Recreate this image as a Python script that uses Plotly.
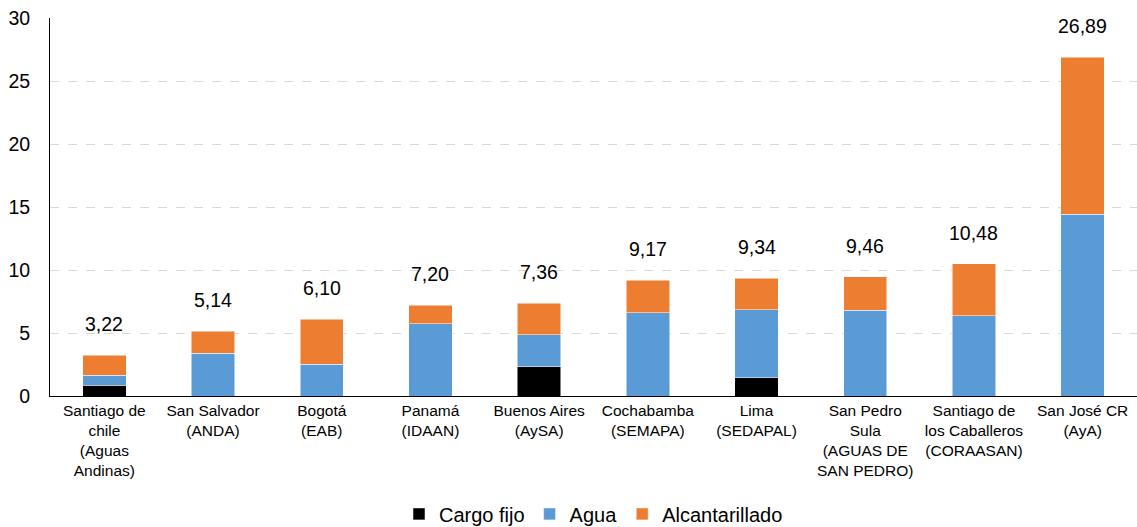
import plotly.graph_objects as go

categories = [
    "Santiago de<br>chile<br>(Aguas<br>Andinas)",
    "San Salvador<br>(ANDA)",
    "Bogotá<br>(EAB)",
    "Panamá<br>(IDAAN)",
    "Buenos Aires<br>(AySA)",
    "Cochabamba<br>(SEMAPA)",
    "Lima<br>(SEDAPAL)",
    "San Pedro<br>Sula<br>(AGUAS DE<br>SAN PEDRO)",
    "Santiago de<br>los Caballeros<br>(CORAASAN)",
    "San José CR<br>(AyA)",
]
cargo_fijo = [0.87, 0, 0, 0, 2.33, 0, 1.45, 0, 0, 0]
agua = [0.77, 3.39, 2.51, 5.74, 2.54, 6.59, 5.40, 6.80, 6.37, 14.44]
alcantarillado = [1.58, 1.75, 3.59, 1.46, 2.49, 2.58, 2.49, 2.66, 4.11, 12.45]
totals = [3.22, 5.14, 6.10, 7.20, 7.36, 9.17, 9.34, 9.46, 10.48, 26.89]
total_labels = ["3,22", "5,14", "6,10", "7,20", "7,36", "9,17", "9,34", "9,46", "10,48", "26,89"]

font_family = "Liberation Sans, Arial, sans-serif"

fig = go.Figure()
fig.add_trace(go.Bar(name="Cargo fijo", x=categories, y=cargo_fijo,
                     marker=dict(color="#000000", line=dict(color="white", width=0.5))))
fig.add_trace(go.Bar(name="Agua", x=categories, y=agua,
                     marker=dict(color="#5B9BD5", line=dict(color="white", width=0.5))))
fig.add_trace(go.Bar(name="Alcantarillado", x=categories, y=alcantarillado,
                     marker=dict(color="#ED7D31", line=dict(color="white", width=0.5))))

for c, t, lab in zip(categories, totals, total_labels):
    fig.add_annotation(x=c, y=t, text=lab, showarrow=False, yanchor="bottom",
                       yshift=18, font=dict(size=19.5, color="#000000", family=font_family))

fig.update_layout(
    barmode="stack",
    bargap=0.6,
    width=1137, height=527,
    margin=dict(l=50, r=0, t=18, b=131, autoexpand=False),
    plot_bgcolor="white", paper_bgcolor="white",
    font=dict(family=font_family, color="#000000"),
    showlegend=True,
    legend=dict(orientation="h", x=0.5, xanchor="center", y=-0.312, yanchor="middle",
                font=dict(size=20), traceorder="normal", itemwidth=30),
    xaxis=dict(showline=True, linecolor="#000000", linewidth=1, ticks="",
               tickfont=dict(size=15.5), tickangle=0, automargin=False),
    yaxis=dict(range=[0, 30], dtick=5, showline=True, linecolor="#000000", linewidth=1,
               showgrid=True, gridcolor="#D9D9D9", griddash="dash", gridwidth=1,
               zeroline=False, tickfont=dict(size=19.5), ticks="", ticklabelstandoff=15,
               automargin=False),
)

fig.write_html("out.html",
               config={"displayModeBar": False},
               post_script="document.body.style.margin='0';document.body.style.overflow='hidden';")
